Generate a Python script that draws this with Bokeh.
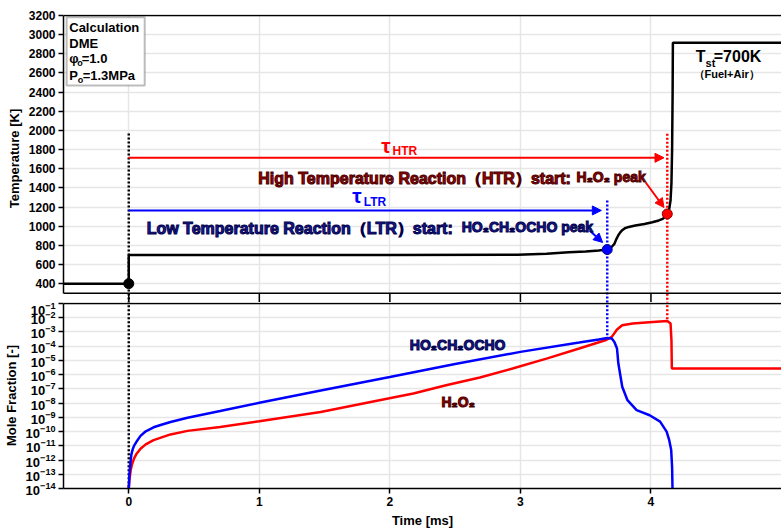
from bokeh.plotting import figure
from bokeh.models import (Range1d, LinearAxis, LogAxis, FixedTicker, Grid, Span, Label,
                          Arrow, NormalHead, BoxAnnotation)
from bokeh.layouts import column
from bokeh.embed import file_html
from bokeh.resources import INLINE

# ---------------- data ----------------
time_T = [-0.5, 0.0, 0.0, 1.0, 2.0, 2.98, 3.2, 3.37, 3.5, 3.6, 3.665, 3.70, 3.72, 3.735,
          3.75, 3.765, 3.78, 3.80, 3.83, 3.88, 3.95, 4.01, 4.06, 4.09, 4.11, 4.125, 4.14,
          4.15, 4.157, 4.162, 4.166, 4.168, 4.5, 5.0]
temperature = [400, 400, 700, 700, 700, 702, 712, 727, 736, 746, 756, 785, 815, 865,
               905, 935, 958, 978, 992, 1006, 1022, 1041, 1060, 1076, 1100, 1128, 1180,
               1268, 1450, 1800, 2400, 2915, 2915, 2915]

time_ho = [0.0, 0.005, 0.015, 0.02, 0.03, 0.04, 0.06, 0.09, 0.13, 0.19, 0.25, 0.32, 0.45,
           0.70, 1.0, 1.5, 2.0, 2.5, 3.0, 3.45, 3.6, 3.665, 3.70, 3.72, 3.74, 3.75, 3.78,
           3.82, 3.89, 3.99, 4.07, 4.12, 4.14, 4.155, 4.162, 4.165]
ho2ch2ocho = [1e-14, 1e-13, 1e-12, 2.5e-12, 5.6e-12, 1e-11, 2.0e-11, 5.0e-11, 1.05e-10,
              2.0e-10, 3.0e-10, 4.7e-10, 9.5e-10, 2.8e-9, 1.05e-8, 8.7e-8, 6.8e-7, 5.6e-6,
              4.0e-5, 1.8e-4, 3.0e-4, 3.8e-4, 3.5e-4, 2.0e-4, 6.9e-5, 6.3e-6, 1.4e-7,
              1.6e-8, 3.2e-9, 1.4e-9, 5.0e-10, 1.0e-10, 2.5e-11, 5.0e-12, 3.2e-13, 1e-14]

time_h2o2 = [0.0, 0.005, 0.015, 0.025, 0.04, 0.06, 0.09, 0.13, 0.19, 0.32, 0.45, 0.70, 1.0,
             1.47, 1.92, 2.18, 2.43, 2.69, 2.94, 3.20, 3.45, 3.65, 3.70, 3.74, 3.78, 3.86,
             3.96, 4.125, 4.15, 4.157, 4.16, 5.0]
h2o2 = [1e-14, 4.0e-14, 2.0e-13, 5.0e-13, 1.26e-12, 2.8e-12, 6.3e-12, 1.26e-11, 2.5e-11,
        6.3e-11, 1.12e-10, 2.1e-10, 5.4e-10, 2.4e-9, 1.6e-8, 4.7e-8, 1.8e-7, 6.3e-7, 2.7e-6,
        1.35e-5, 6.9e-5, 2.6e-4, 4.5e-4, 1.5e-3, 3.0e-3, 3.9e-3, 4.6e-3, 6.0e-3, 4.0e-3,
        2.7e-4, 2.7e-6, 2.7e-6]

x_ticks = [0, 1, 2, 3, 4]
T_ticks = [400, 600, 800, 1000, 1200, 1400, 1600, 1800, 2000, 2200, 2400, 2600, 2800, 3000, 3200]
mf_ticks = [1e-14, 1e-13, 1e-12, 1e-11, 1e-10, 1e-9, 1e-8, 1e-7, 1e-6, 1e-5, 1e-4, 1e-3, 1e-2, 1e-1]

# key events
start_time, start_T = 0.0, 400
ltr_time, ltr_T = 3.665, 756
htr_time, htr_T = 4.125, 1128
tau_htr_end, tau_htr_level = 4.10, 1714
tau_ltr_end, tau_ltr_level = 3.62, 1164

FONT = "Liberation Sans"
RED = "#ff0000"
BLUE = "#0000ff"
DRED = "#a00000"
NAVY = "#1a1a9c"
GRID = "#e6e6e6"

x_range = Range1d(-0.5, 5.0)

# ---------------- top panel ----------------
top = figure(width=781, height=302, x_range=x_range, y_range=Range1d(202.9, 3210.4),
             x_axis_location=None, y_axis_location=None, toolbar_location=None,
             output_backend="svg", min_border_left=62, min_border_right=0,
             min_border_top=14, min_border_bottom=0, outline_line_color=None,
             background_fill_color="white", border_fill_color="white")
top.grid.visible = False
yax = LinearAxis(bounds=(300, 3200), ticker=FixedTicker(ticks=T_ticks),
                 axis_label="Temperature [K]")
top.add_layout(yax, "left")
top.add_layout(Grid(dimension=0, ticker=FixedTicker(ticks=x_ticks), grid_line_color=GRID, grid_line_width=1.5))
top.add_layout(Grid(dimension=1, ticker=FixedTicker(ticks=T_ticks), grid_line_color=GRID, grid_line_width=1.5))

# ---------------- bottom panel ----------------
bot = figure(width=781, height=229, x_range=x_range, y_range=Range1d(1e-14, 10 ** -0.929),
             y_axis_type="log", x_axis_location=None, y_axis_location=None,
             toolbar_location=None, output_backend="svg", min_border_left=62,
             min_border_right=0, min_border_top=0, min_border_bottom=43,
             outline_line_color=None, background_fill_color="white", border_fill_color="white")
bot.grid.visible = False
lax = LogAxis(bounds=(1e-14, 1e-1), ticker=FixedTicker(ticks=mf_ticks), axis_label="Mole Fraction [-]")
bot.add_layout(lax, "left")
xax = LinearAxis(ticker=FixedTicker(ticks=x_ticks), axis_label="Time [ms]")
bot.add_layout(xax, "below")
bot.add_layout(Grid(dimension=0, ticker=FixedTicker(ticks=x_ticks), grid_line_color=GRID, grid_line_width=1.5))
bot.add_layout(Grid(dimension=1, ticker=FixedTicker(ticks=mf_ticks), grid_line_color=GRID, grid_line_width=1.5))

for ax in (yax, lax, xax):
    ax.axis_line_color = "black"
    ax.axis_line_width = 1.5
    ax.major_tick_line_color = "black"
    ax.major_tick_line_width = 1.5
    ax.major_tick_out = 5
    ax.major_tick_in = 0
    ax.minor_tick_line_color = None
    ax.major_label_text_font = FONT
    ax.major_label_text_font_style = "bold"
    ax.major_label_text_font_size = "12px"
    ax.major_label_text_color = "black"
    ax.major_label_standoff = 3
    ax.axis_label_text_font = FONT
    ax.axis_label_text_font_style = "bold"
    ax.axis_label_text_font_size = "13px"
    ax.axis_label_text_color = "black"
    ax.axis_label_standoff = 4
lax.major_label_text_font_size = "13px"

# borders
top.add_layout(Span(location=300, dimension="width", line_color="black", line_width=1.5))
top.add_layout(Span(location=3200, dimension="width", line_color="black", line_width=1.5))
bot.add_layout(Span(location=1e-1, dimension="width", line_color="black", line_width=1.5))
# ticks on the bottom edge of the upper panel (extend into the gap)
top.segment(x0=x_ticks, x1=x_ticks, y0=[300] * len(x_ticks), y1=[206] * len(x_ticks),
            line_color="black", line_width=1.5)

# ---------------- guide lines ----------------
guide_x = [start_time, ltr_time, htr_time]
guide_col = ["black", BLUE, RED]
top.segment(x0=guide_x, x1=guide_x, y0=[1968, 1268, 1965], y1=[150, 150, 150],
            line_color=guide_col, line_width=2.5, line_dash="2 2")
bot.segment(x0=guide_x, x1=guide_x, y0=[1.0, 1.0, 1.0], y1=[1e-14, 6e-4, 6e-3],
            line_color=guide_col, line_width=2.5, line_dash="2 2")

# ---------------- curves ----------------
top.line(time_T, temperature, line_color="black", line_width=2.5)
top.scatter([start_time], [start_T], size=10, fill_color="black", line_color="black")
top.scatter([ltr_time], [ltr_T], size=10, fill_color=BLUE, line_color="#00008b")
top.scatter([htr_time], [htr_T], size=10, fill_color=RED, line_color="#8b0000")

bot.line(time_h2o2, h2o2, line_color=RED, line_width=2.5)
bot.line(time_ho, ho2ch2ocho, line_color=BLUE, line_width=2.5)

# ---------------- arrows ----------------
def arrow(p, x0, y0, x1, y1, color, w=2):
    p.add_layout(Arrow(end=NormalHead(size=9, fill_color=color, line_color=color),
                       x_start=x0, y_start=y0, x_end=x1, y_end=y1,
                       line_color=color, line_width=w))

arrow(top, start_time, tau_htr_level, tau_htr_end, tau_htr_level, RED)
arrow(top, start_time, tau_ltr_level, tau_ltr_end, tau_ltr_level, BLUE)
arrow(top, 3.96, 1456, 4.10, 1195, RED)
arrow(top, 3.53, 955, 3.63, 830, BLUE)

# ---------------- labels ----------------
def lab(p, x, y, text, size, color="black", align="left", style="bold", xoff=0, outline=None):
    kw = {}
    if outline:
        kw["text_outline_color"] = outline
    p.add_layout(Label(x=x, y=y, text=text, x_offset=xoff, text_font=FONT,
                       text_font_style=style, text_font_size=size, text_color=color,
                       text_align=align, text_baseline="middle", **kw))

# info box
top.add_layout(BoxAnnotation(left=-0.476, right=0.122, top=3182, bottom=2469,
                             fill_color="white", fill_alpha=1.0,
                             line_color="#222222", line_width=2))
lab(top, -0.456, 3078, "Calculation", "13px")
lab(top, -0.456, 2911, "DME", "13px")
lab(top, -0.456, 2748, "φ", "13px")
lab(top, -0.456, 2706, "o", "9px", xoff=8)
lab(top, -0.456, 2748, "=1.0", "13px", xoff=12.5)
lab(top, -0.456, 2573, "P", "13px")
lab(top, -0.456, 2531, "o", "9px", xoff=8.5)
lab(top, -0.456, 2573, "=1.3MPa", "13px", xoff=13.4)

# T_st
lab(top, 4.418, 2772, "T", "16px", align="right")
lab(top, 4.418, 2706, "st", "11px")
lab(top, 4.481, 2772, "=700K", "16px")
lab(top, 4.58, 2591, "（Fuel+Air）", "11px", align="center")

# tau labels
lab(top, 2.005, 1842, "τ", "21px", color=RED, align="right")
lab(top, 2.02, 1783, "HTR", "12px", color=RED)
lab(top, 1.784, 1320, "τ", "21px", color=BLUE, align="right")
lab(top, 1.80, 1250, "LTR", "12px", color=BLUE)

# reaction descriptions
lab(top, 0.992, 1498, "High Temperature Reaction（HTR）start:", "16px", color=DRED, outline="#4a0000")
lab(top, 3.43, 1510, "H₂O₂ peak", "14px", color=DRED, outline="#4a0000")
lab(top, 0.137, 978, "Low Temperature Reaction（LTR）start:", "16px", color=NAVY, outline="#00004a")
lab(top, 2.55, 990, "HO₂CH₂OCHO peak", "14px", color=NAVY, outline="#00004a")

# species labels
lab(bot, 2.153, 1.17e-4, "HO₂CH₂OCHO", "14px", color=NAVY, outline="#00004a")
lab(bot, 2.395, 1.23e-8, "H₂O₂", "14px", color=DRED, outline="#4a0000")

layout = column(top, bot, spacing=0)
open("out.html", "w").write(file_html(layout, INLINE))
